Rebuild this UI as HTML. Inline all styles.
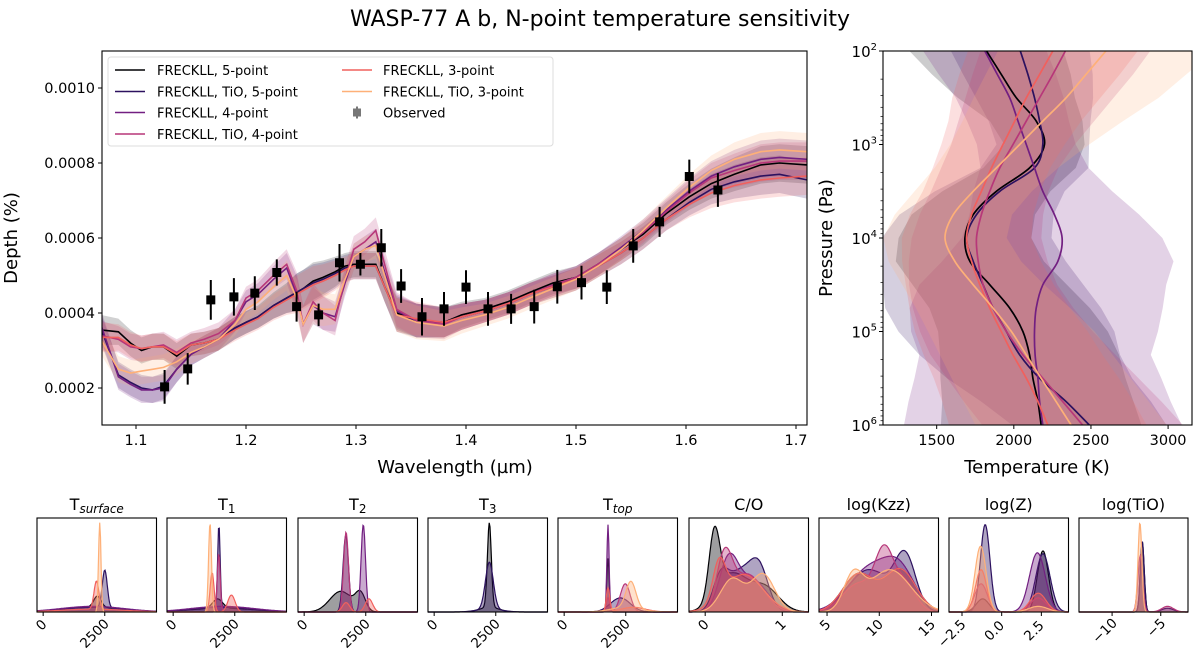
<!DOCTYPE html>
<html><head><meta charset="utf-8"><style>
html,body{margin:0;padding:0;background:#fff;}
svg{display:block;font-family:"DejaVu Sans","Liberation Sans",sans-serif;}
</style></head><body>
<svg id="fig" width="1200" height="660" viewBox="0 0 1200 660" xmlns="http://www.w3.org/2000/svg">
<defs>
<clipPath id="clipMain"><rect x="102" y="51" width="705" height="374"/></clipPath>
<clipPath id="clipTP"><rect x="883" y="51" width="309" height="374"/></clipPath>
</defs>
<text x="600" y="26" font-size="22" text-anchor="middle">WASP-77 A b, N-point temperature sensitivity</text>
<g id="main"></g>
<g id="tp"></g>
<g id="post"></g>
</svg>
<script>
// ---------- spectrum data ----------
const wavelengths = [1.068,1.084,1.095,1.105,1.115,1.125,1.137,1.15,1.162,1.175,1.19,1.2,1.211,1.225,1.237,1.246,1.252,1.261,1.27,1.281,1.29,1.298,1.308,1.318,1.326,1.337,1.355,1.38,1.396,1.417,1.438,1.458,1.479,1.5,1.52,1.541,1.561,1.582,1.603,1.623,1.644,1.668,1.685,1.71];
const depthBlack  = [3.55,3.5,3.2,3.0,3.1,3.1,2.85,3.15,3.2,3.3,3.6,3.75,3.9,4.2,4.4,4.55,4.65,4.85,4.95,5.1,5.25,5.3,5.3,5.3,4.7,4.0,3.8,3.75,3.95,4.1,4.3,4.55,4.8,4.95,5.3,5.7,6.1,6.65,7.1,7.45,7.7,7.95,8.0,7.95];
const depthIndigo = [3.6,2.35,2.15,2.0,1.95,2.05,2.5,2.9,3.1,3.3,3.6,3.75,3.9,4.2,4.4,4.55,4.65,4.8,4.9,5.05,5.2,5.25,5.25,5.25,4.7,3.95,3.8,3.75,3.9,4.05,4.25,4.5,4.7,4.9,5.25,5.6,6.0,6.5,6.95,7.3,7.5,7.65,7.7,7.55];
const depthPurple = [3.7,2.3,2.1,1.95,1.95,2.0,2.5,2.9,3.1,3.3,3.8,4.3,4.5,4.9,5.2,4.5,3.7,4.2,4.0,3.9,4.8,5.5,5.7,5.9,5.1,4.05,3.8,3.75,3.9,4.05,4.25,4.5,4.75,4.95,5.3,5.75,6.2,6.75,7.25,7.65,7.9,8.1,8.15,8.1];
const depthMagenta= [3.4,3.3,3.1,3.05,3.1,3.15,2.95,3.2,3.3,3.45,3.8,4.4,4.6,5.0,5.3,4.6,3.7,4.3,4.0,3.8,4.9,5.7,5.9,6.2,5.3,4.1,3.8,3.7,3.9,4.05,4.25,4.5,4.75,4.95,5.3,5.7,6.15,6.7,7.2,7.6,7.8,8.0,8.05,8.05];
const depthRed    = [3.35,3.35,3.15,3.05,3.1,3.1,2.9,3.15,3.2,3.3,3.55,3.7,3.85,4.15,4.35,4.5,4.6,4.75,4.85,5.0,5.15,5.25,5.25,5.25,4.7,3.95,3.85,3.75,3.9,4.05,4.25,4.5,4.7,4.9,5.25,5.6,6.0,6.5,6.9,7.2,7.4,7.55,7.6,7.65];
const depthOrange = [3.3,2.5,2.4,2.45,2.5,2.55,2.7,2.95,3.1,3.3,3.7,4.1,4.3,4.7,5.0,4.4,3.7,4.2,4.1,4.1,4.9,5.5,5.7,5.8,5.0,3.95,3.75,3.65,3.8,3.95,4.15,4.4,4.65,4.9,5.25,5.7,6.2,6.8,7.35,7.8,8.1,8.3,8.35,8.3];
const bandHalf    = [0.4,0.35,0.35,0.35,0.35,0.35,0.35,0.3,0.3,0.3,0.3,0.3,0.3,0.35,0.4,0.5,0.5,0.5,0.45,0.4,0.35,0.35,0.35,0.35,0.4,0.45,0.45,0.4,0.35,0.3,0.3,0.3,0.3,0.3,0.3,0.3,0.3,0.3,0.35,0.4,0.45,0.5,0.5,0.5];
const obsWl  = [1.126,1.147,1.168,1.189,1.208,1.228,1.246,1.266,1.285,1.304,1.323,1.341,1.36,1.38,1.4,1.42,1.441,1.462,1.483,1.505,1.528,1.552,1.576,1.603,1.629];
const obsDep = [2.03,2.51,4.35,4.43,4.53,5.08,4.17,3.95,5.34,5.3,5.74,4.72,3.9,4.11,4.69,4.11,4.11,4.17,4.7,4.81,4.69,5.79,6.43,7.64,7.28];
const obsErr = [0.45,0.42,0.53,0.5,0.45,0.35,0.4,0.3,0.5,0.3,0.5,0.45,0.5,0.45,0.45,0.45,0.4,0.45,0.45,0.45,0.45,0.45,0.4,0.45,0.45];
const xTicks = [1.1,1.2,1.3,1.4,1.5,1.6,1.7];
const xTickLabels = ["1.1","1.2","1.3","1.4","1.5","1.6","1.7"];
const yTicks = [2,4,6,8,10];
const yTickLabels = ["0.0002","0.0004","0.0006","0.0008","0.0010"];
const seriesNames = ["FRECKLL, 5-point","FRECKLL, TiO, 5-point","FRECKLL, 4-point","FRECKLL, TiO, 4-point","FRECKLL, 3-point","FRECKLL, TiO, 3-point"];
// ---------- T-P data ----------
const logP = [2,2.25,2.5,2.75,3,3.25,3.5,3.75,4,4.25,4.5,4.75,5,5.25,5.5,5.75,6];
const tpBlack  = [1823,1919,2016,2145,2199,2102,1887,1737,1683,1715,1844,1973,2059,2102,2124,2156,2177];
const tpIndigo = [2042,2091,2134,2167,2188,2134,1909,1758,1694,1737,1801,1866,1952,2038,2167,2339,2489];
const tpPurple = [1812,1893,1973,2027,2081,2134,2188,2263,2313,2285,2188,2145,2134,2138,2156,2167,2188];
const tpMagenta= [2334,2253,2167,2081,1995,1909,1844,1790,1758,1769,1801,1866,1952,2059,2188,2317,2446];
const tpRed    = [2253,2167,2081,2006,1930,1855,1790,1726,1694,1726,1780,1844,1919,1995,2081,2156,2220];
const tpOrange = [2597,2468,2339,2188,2038,1887,1737,1608,1554,1618,1737,1866,1984,2081,2177,2274,2371];
const tpHalfBlack  = [500,450,380,300,260,300,350,400,430,480,500,520,550,580,600,620,650];
const tpHalfIndigo = [450,420,380,330,300,350,420,500,550,600,650,700,700,650,600,550,500];
const tpHalfPurple = [400,380,350,330,320,350,450,550,650,750,800,820,800,750,800,850,900];
const tpHalfMagenta= [550,520,480,440,400,380,380,400,420,450,480,520,560,600,620,640,650];
const tpHalfRed    = [550,520,480,430,400,380,380,400,420,450,480,520,560,580,600,620,640];
const tpHalfOrange = [700,650,600,520,450,400,380,380,400,430,460,500,540,560,580,600,620];
const tTicks = [1500,2000,2500,3000];
const pTicks = [2,3,4,5,6];
// ---------- posterior components [series, mu, sigma, amp] ----------
const postTitles = ["surface","1","2","3","top","C/O","log(Kzz)","log(Z)","log(TiO)"];
const kdeTsurf = [[0,2200,150,0.12],[0,2000,1300,0.05],[1,2500,100,0.4],[1,2000,1300,0.05],[2,2000,1300,0.06],[4,2163,100,0.3],[4,2000,1300,0.03],[5,2297,50,0.95]];
const kdeT1 = [[0,1800,200,0.1],[0,2000,1300,0.04],[1,1857,50,0.88],[1,2000,1300,0.05],[2,2000,1300,0.06],[3,1850,60,0.62],[4,1580,80,0.42],[4,2365,150,0.18],[5,1496,60,0.95]];
const kdeT2 = [[0,1490,450,0.22],[0,2285,200,0.18],[1,1690,110,0.82],[2,2400,90,0.93],[3,1700,100,0.85],[4,2630,150,0.14],[4,1700,150,0.1]];
const kdeT3 = [[0,2240,80,0.9],[0,2240,400,0.05],[1,2240,160,0.5],[1,2240,500,0.03]];
const kdeTtop = [[0,1780,50,0.57],[1,2280,400,0.15],[2,1780,45,0.93],[3,2480,200,0.3],[3,1780,80,0.15],[4,1780,70,0.25],[4,2800,500,0.05],[5,2710,200,0.28],[5,2500,600,0.05]];
const kdeCO = [[0,0.12,0.07,0.7],[0,0.35,0.2,0.4],[0,0.78,0.18,0.25],[1,0.2,0.1,0.35],[1,0.45,0.15,0.4],[1,0.7,0.12,0.45],[2,0.3,0.12,0.5],[2,0.6,0.2,0.35],[3,0.25,0.1,0.55],[3,0.55,0.2,0.4],[4,0.18,0.08,0.4],[4,0.5,0.25,0.4],[5,0.35,0.15,0.35],[5,0.75,0.15,0.4]];
const kdeKzz = [[0,8,1.5,0.4],[0,12,1.5,0.45],[1,12.5,1,0.55],[1,9,2,0.45],[2,9,2,0.45],[2,12,1.5,0.4],[3,10.5,0.9,0.6],[3,8,1.5,0.3],[3,12.5,1,0.3],[4,8,1.5,0.4],[4,12,1.5,0.45],[5,7.5,0.9,0.35],[5,11,2,0.45]];
const kdeZ = [[0,-1.2,0.4,0.14],[0,2.6,0.35,0.65],[1,-1.04,0.3,0.93],[1,2.6,0.45,0.62],[2,2.25,0.5,0.63],[3,-1.3,0.4,0.3],[3,2.3,0.5,0.15],[4,-1.3,0.35,0.45],[4,2.3,0.5,0.2],[5,-1.33,0.35,0.7],[5,2.3,0.6,0.06]];
const kdeTiO = [[0,-6.9,0.2,0.75],[1,-6.9,0.2,0.75],[3,-7.1,0.25,0.6],[3,-4.3,0.6,0.06],[1,-4.3,0.6,0.04],[5,-7.14,0.2,0.95]];
const postRanges = [[-250,4600],[-250,4600],[-250,4600],[-250,4600],[-250,4600],[-0.21,1.34],[4.23,15.67],[-3.32,4.21],[-13.4,-2.2]];
const postTickVals = [[0,2500],[0,2500],[0,2500],[0,2500],[0,2500],[0,1],[5,10,15],[-2.5,0,2.5],[-10,-5]];
const postTickLabels = [["0","2500"],["0","2500"],["0","2500"],["0","2500"],["0","2500"],["0","1"],["5","10","15"],["\u22122.5","0.0","2.5"],["\u221210","\u22125"]];

const colors = ["#000004","#2c115f","#721f81","#b73779","#f1605d","#feb078"];
const NS = "http://www.w3.org/2000/svg";
function mk(tag, attrs, parent){ const e=document.createElementNS(NS,tag); for(const k in attrs) e.setAttribute(k,attrs[k]); if(parent) parent.appendChild(e); return e; }

// ---------- main spectrum ----------
(function(){
  const g = document.getElementById('main');
  const L=102,R=807,T=51,B=425;
  const xs = w => 136 + (w-1.1)*1100;
  const ys = d => 388 - (d-2)*37.5;
  const clip = mk('g',{'clip-path':'url(#clipMain)'},g);
  const series=[depthBlack,depthIndigo,depthPurple,depthMagenta,depthRed,depthOrange];
  series.forEach((s,si)=>{
    let d='';
    wavelengths.forEach((w,i)=>{ d+=(i?'L':'M')+xs(w).toFixed(1)+','+ys(s[i]+bandHalf[i]).toFixed(1); });
    for(let i=wavelengths.length-1;i>=0;i--) d+='L'+xs(wavelengths[i]).toFixed(1)+','+ys(s[i]-bandHalf[i]).toFixed(1);
    const p=mk('path',{d:d+'Z',fill:colors[si],'fill-opacity':si===0?0.18:0.2,stroke:'none'},clip);
    
    
  });
  series.forEach((s,si)=>{
    const pts=wavelengths.map((w,i)=>xs(w).toFixed(1)+','+ys(s[i]).toFixed(1)).join(' ');
    const p=mk('polyline',{points:pts,fill:'none',stroke:colors[si],'stroke-width':1.6},clip);
    
    
  });
  obsWl.forEach((w,i)=>{
    const x=xs(w), y=ys(obsDep[i]);
    const e=mk('line',{x1:x,x2:x,y1:ys(obsDep[i]+obsErr[i]),y2:ys(obsDep[i]-obsErr[i]),stroke:'#000','stroke-width':2},g);
    
    
    const m=mk('rect',{x:x-4.5,y:y-4.5,width:9,height:9,fill:'#000'},g);
    
    
  });
  const fr=mk('rect',{x:L,y:T,width:R-L,height:B-T,fill:'none',stroke:'#000','stroke-width':1.1},g);
  
  
  xTicks.forEach((v,i)=>{
    const x=xs(v);
    mk('line',{x1:x,x2:x,y1:B,y2:B+4,stroke:'#000'},g);
    const t=mk('text',{x:x,y:B+20,'font-size':14.5,'text-anchor':'middle'},g);
    t.textContent=xTickLabels[i];
    
    
  });
  yTicks.forEach((v,i)=>{
    const y=ys(v);
    mk('line',{x1:L-4,x2:L,y1:y,y2:y,stroke:'#000'},g);
    const t=mk('text',{x:L-7,y:y+5,'font-size':14.5,'text-anchor':'end'},g);
    t.textContent=yTickLabels[i];
    
    
  });
  const xl=mk('text',{x:455,y:473,'font-size':18,'text-anchor':'middle'},g); xl.textContent='Wavelength (\u00b5m)';
   
  const yl=mk('text',{x:0,y:0,'font-size':18,'text-anchor':'middle',transform:'translate(17,238) rotate(-90)'},g); yl.textContent='Depth (%)';
   
  // legend
  const lg=mk('g',{},g);
   
  mk('rect',{x:108,y:57,width:445,height:89,rx:3,fill:'#fff','fill-opacity':0.8,stroke:'#ddd'},lg);
  const rows=[70,91.5,112.5,134];
  seriesNames.forEach((n,i)=>{
    const col=i<4?0:1, row=i<4?i:i-4;
    const hx=col?342:115, tx=col?383:157, y=rows[row];
    mk('line',{x1:hx,x2:hx+30,y1:y,y2:y,stroke:colors[i],'stroke-width':1.6},lg);
    const t=mk('text',{x:tx,y:y+5,'font-size':13},lg); t.textContent=n;
     
  });
  const oy=rows[2];
  mk('line',{x1:357,x2:357,y1:oy-6,y2:oy+6,stroke:'#777','stroke-width':2},lg);
  mk('rect',{x:353,y:oy-4,width:8,height:8,fill:'#777'},lg);
  const ot=mk('text',{x:383,y:oy+5,'font-size':13},lg); ot.textContent='Observed';
   
})();

// ---------- T-P panel ----------
(function(){
  const g=document.getElementById('tp');
  const L=883,R=1192,T=51,B=425;
  const xs=t=>L+(t-1152)*(R-L)/(3155-1152);
  const ys=lp=>T+(lp-2)*(B-T)/4;
  const clip=mk('g',{'clip-path':'url(#clipTP)'},g);
  const tps=[tpBlack,tpIndigo,tpPurple,tpMagenta,tpRed,tpOrange];
  const hws=[tpHalfBlack,tpHalfIndigo,tpHalfPurple,tpHalfMagenta,tpHalfRed,tpHalfOrange];
  tps.forEach((s,si)=>{
    let d='';
    logP.forEach((p,i)=>{ d+=(i?'L':'M')+xs(s[i]-hws[si][i]).toFixed(1)+','+ys(p).toFixed(1); });
    for(let i=logP.length-1;i>=0;i--) d+='L'+xs(s[i]+hws[si][i]).toFixed(1)+','+ys(logP[i]).toFixed(1);
    const p=mk('path',{d:d+'Z',fill:colors[si],'fill-opacity':si===0?0.2:0.2},clip);
    
    
  });
  tps.forEach((s,si)=>{
    let d='';
    // smooth with Catmull-Rom
    const P=logP.map((p,i)=>[xs(s[i]),ys(p)]);
    d='M'+P[0][0]+','+P[0][1];
    for(let i=0;i<P.length-1;i++){
      const p0=P[Math.max(0,i-1)],p1=P[i],p2=P[i+1],p3=P[Math.min(P.length-1,i+2)];
      d+='C'+(p1[0]+(p2[0]-p0[0])/6).toFixed(1)+','+(p1[1]+(p2[1]-p0[1])/6).toFixed(1)+' '+(p2[0]-(p3[0]-p1[0])/6).toFixed(1)+','+(p2[1]-(p3[1]-p1[1])/6).toFixed(1)+' '+p2[0].toFixed(1)+','+p2[1].toFixed(1);
    }
    const p=mk('path',{d:d,fill:'none',stroke:colors[si],'stroke-width':1.7},clip);
    
    
  });
  const fr=mk('rect',{x:L,y:T,width:R-L,height:B-T,fill:'none',stroke:'#000','stroke-width':1.1},g);
   
  tTicks.forEach(v=>{
    const x=xs(v);
    mk('line',{x1:x,x2:x,y1:B,y2:B+4,stroke:'#000'},g);
    const t=mk('text',{x:x,y:B+20,'font-size':14.5,'text-anchor':'middle'},g); t.textContent=String(v);
     
  });
  pTicks.forEach(v=>{
    const y=ys(v);
    mk('line',{x1:L-4,x2:L,y1:y,y2:y,stroke:'#000'},g);
    const t=mk('text',{x:L-6,y:y+6,'font-size':15,'text-anchor':'end'},g);
    t.appendChild(document.createTextNode('10'));
    const sp=mk('tspan',{'font-size':10,dy:-7},t); sp.textContent=String(v);
     
    if(v<6) for(let k=2;k<10;k++){ const yy=ys(v+Math.log10(k)); mk('line',{x1:L-2.5,x2:L,y1:yy,y2:yy,stroke:'#000','stroke-width':0.7},g); }
  });
  const xl=mk('text',{x:1037,y:473,'font-size':18,'text-anchor':'middle'},g); xl.textContent='Temperature (K)';
   
  const yl=mk('text',{x:0,y:0,'font-size':18,'text-anchor':'middle',transform:'translate(832,238) rotate(-90)'},g); yl.textContent='Pressure (Pa)';
   
})();

// ---------- posterior panels ----------
(function(){
  const g=document.getElementById('post');
  const lefts=[37,167,298,428,558,689,819,949,1079];
  const W=119.5, T=518, B=612;
  const kdes=[kdeTsurf,kdeT1,kdeT2,kdeT3,kdeTtop,kdeCO,kdeKzz,kdeZ,kdeTiO];
  kdes.forEach((comps,pi)=>{
    const L=lefts[pi], Rr=pi===8?1188:L+W;
    const [a,b]=postRanges[pi];
    const xs=v=>L+(v-a)/(b-a)*(Rr-L);
    const ys=h=>B-h*(B-T);
    const pg=mk('g',{},g);
     
    for(let si=0;si<6;si++){
      const cs=comps.filter(c=>c[0]===si);
      if(!cs.length) continue;
      const N=160; let pts=[];
      for(let k=0;k<=N;k++){
        const v=a+(b-a)*k/N; let h=0;
        cs.forEach(c=>{ h+=c[3]*Math.exp(-0.5*((v-c[1])/c[2])**2); });
        pts.push([xs(v),ys(Math.min(h,0.97))]);
      }
      const line=pts.map((p,i)=>(i?'L':'M')+p[0].toFixed(1)+','+p[1].toFixed(1)).join('');
      const f=mk('path',{d:line+'L'+Rr+','+B+'L'+L+','+B+'Z',fill:colors[si],'fill-opacity':0.38},pg);
       
      const s=mk('path',{d:line,fill:'none',stroke:colors[si],'stroke-width':1.2},pg);
       
    }
    mk('rect',{x:L,y:T,width:Rr-L,height:B-T,fill:'none',stroke:'#000','stroke-width':1.1},pg);
    const title=mk('text',{x:(L+Rr)/2,y:T-8,'font-size':16,'text-anchor':'middle'},pg);
    if(pi<5){
      title.appendChild(document.createTextNode('T'));
      const sp=mk('tspan',{'font-size':pi===1||pi===2||pi===3?12:12,'font-style':(pi===0||pi===4)?'italic':'normal',dy:3},title);
      sp.textContent=postTitles[pi];
    } else title.textContent=postTitles[pi];
     
    postTickVals[pi].forEach((v,ti)=>{
      const x=xs(v);
      mk('line',{x1:x,x2:x,y1:B,y2:B+4,stroke:'#000'},pg);
      const lab=postTickLabels[pi][ti];
      const w=lab.length*8;
      const off=(w*0.707+13*0.707)/2;
      const t=mk('text',{x:0,y:0,'font-size':13.5,'text-anchor':'middle','dominant-baseline':'central',transform:'translate('+(x-off+6).toFixed(1)+','+(B+6+off).toFixed(1)+') rotate(-45)'},pg);
      t.textContent=lab;
       
    });
  });
})();
</script>
</body></html>
